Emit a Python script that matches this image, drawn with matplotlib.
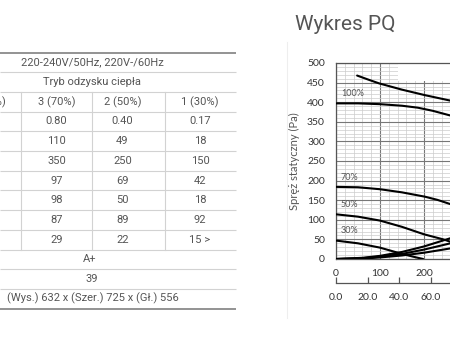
# ───────────────────────── Imports ─────────────────────────
import matplotlib
matplotlib.use("Agg")
import matplotlib.pyplot as plt
from matplotlib.patches import Rectangle

# ───────────────────────── Table data ─────────────────────────
supply_row = "220-240V/50Hz, 220V-/60Hz"
mode_row = "Tryb odzysku ciepła"
hidden_header = "4 (100%)"
col_headers = ["3 (70%)", "2 (50%)", "1 (30%)"]
row_power = ["0.80", "0.40", "0.17"]
row_flow = ["110", "49", "18"]
row_pressure = ["350", "250", "150"]
row_efficiency = ["97", "69", "42"]
row_watts = ["98", "50", "18"]
row_recovery = ["87", "89", "92"]
row_noise = ["29", "22", "15 >"]
energy_class = "A+"
weight = "39"
dimensions = "(Wys.) 632 x (Szer.) 725 x (Gł.) 556"

# ───────────────────────── PQ chart data (m3/h, Pa) ─────────────────────────
max_x = [48, 75, 98, 150, 202, 260, 300]
max_y = [468, 457, 448, 432, 418, 404, 395]
p100_x = [0, 50, 100, 150, 186, 220, 260, 300]
p100_y = [397, 397, 395, 391, 386, 378, 366, 350]
p70_x = [0, 50, 100, 150, 202, 230, 260, 300]
p70_y = [184, 183, 178, 170, 159, 151, 140, 122]
p50_x = [0, 50, 100, 150, 200, 244, 260, 300]
p50_y = [114, 108, 98, 82, 63, 50, 44, 30]
p30_x = [0, 50, 100, 150, 175, 198]
p30_y = [47, 40, 29, 13, 6, 0]
sys_x = [0, 60, 100, 150, 200, 260, 300]
sys1_y = [0, 3, 8, 18, 32, 53, 71]
sys2_y = [0, 2, 6, 13, 24, 40, 53]
sys3_y = [0, 1, 4, 9, 16, 27, 36]
curve_labels = ["100%", "70%", "50%", "30%"]
label_pos = [(11, 421), (11, 209), (11, 138), (11, 72)]
flow_ticks = [0, 100, 200, 300]
flow_labels = ["0", "100", "200", ""]
ls_ticks = [0, 20, 40, 60, 80]
ls_labels = ["0.0", "20.0", "40.0", "60.0", ""]

W, H = 450, 338
fig = plt.figure(figsize=(W / 100, H / 100), dpi=100)
fig.patch.set_facecolor("white")

# ───────────────────────── Background (pixel coords) ─────────────────────────
bg = fig.add_axes([0, 0, 1, 1])
bg.set_xlim(0, W)
bg.set_ylim(H, 0)
bg.axis("off")

tfont = dict(family="Roboto", fontsize=8, color="#555555", ha="center", va="center")
top, pitch, right = 52.5, 19.7, 236
n_rows = 13
for i in range(n_rows + 1):
    y = top + i * pitch
    edge = i in (0, n_rows)
    bg.plot([0, right], [y, y], color="#8a8a8a" if edge else "#d2d2d2",
            lw=1.3 if edge else 0.8, solid_capstyle="butt")
for x in [21, 92, 165]:
    bg.plot([x, x], [top + 2 * pitch, top + 10 * pitch], color="#d2d2d2", lw=0.8)

def row_y(i):
    return top + (i + 0.5) * pitch

bg.text(92, row_y(0), supply_row, **tfont)
bg.text(92, row_y(1), mode_row, **tfont)
bg.text(5.5, row_y(2), hidden_header, **{**tfont, "ha": "right"})
col_x = [56.5, 122.5, 200]
for cx, h in zip(col_x, col_headers):
    bg.text(cx, row_y(2), h, **tfont)
body = [row_power, row_flow, row_pressure, row_efficiency, row_watts, row_recovery, row_noise]
for r, vals in enumerate(body):
    for cx, v in zip(col_x, vals):
        bg.text(cx, row_y(3 + r), v, **tfont)
bg.text(90, row_y(10), energy_class, **tfont)
bg.text(92, row_y(11), weight, **tfont)
bg.text(93, row_y(12), dimensions, **tfont)

# faint separator + title
bg.plot([287, 287], [42, 318], color="#eeeeee", lw=0.8)
bg.text(295, 25, "Wykres PQ", family="Roboto", fontsize=15, color="#555555",
        ha="left", va="center")

# ───────────────────────── PQ chart ─────────────────────────
px_per_x = 0.44
x_max = 300
ax = fig.add_axes([336 / W, (H - 259) / H, x_max * px_per_x / W, 196 / H])
ax.set_xlim(0, x_max)
ax.set_ylim(0, 500)
ax.set_xticks(flow_ticks)
ax.set_xticklabels(flow_labels)
ax.set_xticks(range(0, 301, 20), minor=True)
ax.set_yticks(range(0, 501, 50))
ax.set_yticks(range(0, 501, 10), minor=True)
ax.grid(which="minor", color="#cccccc", lw=0.5)
ax.grid(which="major", color="#777777", lw=0.8)
ax.set_axisbelow(True)
for s in ax.spines.values():
    s.set_color("#555555")
    s.set_linewidth(0.9)
ax.tick_params(which="both", length=0)
ax.tick_params(axis="y", pad=8, labelsize=7.5, labelcolor="#333333")
ax.tick_params(axis="x", pad=7, labelsize=7.5, labelcolor="#333333")
for lab in ax.get_xticklabels() + ax.get_yticklabels():
    lab.set_family("Lato")
ax.set_ylabel("Spręż statyczny (Pa)", family="Lato", fontsize=8, color="#555555", labelpad=5)

# erased patch at top right
ax.add_patch(Rectangle((140, 455), 200, 44, facecolor="white", edgecolor="none", zorder=1.5))

lw = 1.5
for xs, ys in [(max_x, max_y), (p100_x, p100_y), (p70_x, p70_y), (p50_x, p50_y),
               (p30_x, p30_y), (sys_x, sys1_y), (sys_x, sys2_y), (sys_x, sys3_y)]:
    ax.plot(xs, ys, color="black", lw=lw, zorder=3, solid_capstyle="round")
for lab, (lx, ly) in zip(curve_labels, label_pos):
    ax.text(lx, ly, lab, family="Lato", fontsize=6.5, color="#555555",
            ha="left", va="center", zorder=4)

# ───────────────────────── Secondary l/s axis ─────────────────────────
ax_l = fig.add_axes([336 / W, (H - 283) / H, x_max * px_per_x / W, 0.0001])
ax_l.set_xlim(0, x_max / 3.6)
ax_l.set_xticks(ls_ticks)
ax_l.set_xticklabels(ls_labels)
ax_l.set_yticks([])
ax_l.patch.set_visible(False)
for k in ("top", "left", "right"):
    ax_l.spines[k].set_visible(False)
ax_l.spines["bottom"].set_color("#555555")
ax_l.spines["bottom"].set_linewidth(0.9)
ax_l.tick_params(axis="x", direction="in", length=4, width=0.9, color="#555555",
                 pad=7, labelsize=7.5, labelcolor="#333333")
for lab in ax_l.get_xticklabels():
    lab.set_family("Lato")

fig.savefig("out.png", dpi=100)
